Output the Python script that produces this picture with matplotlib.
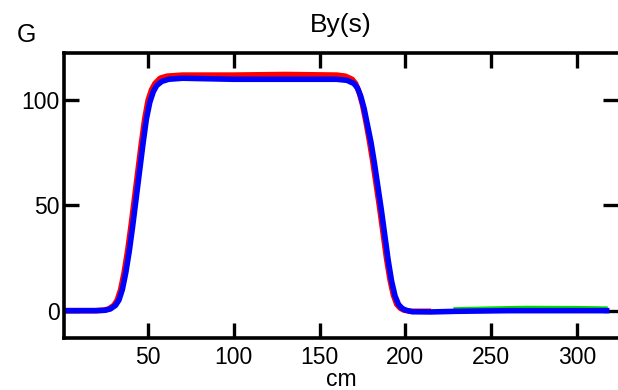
import matplotlib
matplotlib.use("Agg")
import matplotlib.pyplot as plt

plt.rcParams['font.family'] = ['Liberation Sans', 'DejaVu Sans']

# blue: measured By(s), G vs cm
blue_s = [1, 20, 25, 28, 31, 33, 35, 37, 39, 41, 43, 45, 47, 49, 51, 53, 55, 58, 62, 70,
          100, 130, 160, 166, 170, 172, 174, 176, 178, 180, 182, 184, 186, 188, 190,
          192, 194, 196, 198, 200, 204, 215, 230, 260, 290, 319]
blue_b = [0, 0, 0.2, 0.8, 2.5, 5, 10, 18, 28, 40, 53, 66, 79, 91, 99, 104, 107, 109, 110, 110.5,
          110, 110, 110, 109.5, 108, 106, 102, 96, 88, 80, 70, 59, 48, 36, 24,
          14, 7, 3, 1.2, 0.3, -0.5, -0.6, -0.3, 0, 0, 0]

# red: second series, slightly higher plateau
red_s = [1, 19, 24, 27, 30, 32, 34, 36, 38, 40, 42, 44, 46, 48, 50, 52, 54, 57, 61, 70,
         100, 130, 160, 165, 169, 171, 173, 175, 177, 179, 181, 183, 185, 187, 189,
         191, 193, 195, 197, 199, 203, 215]
red_b = [0, 0, 0.2, 0.8, 2.5, 5, 10, 18, 28, 40, 53, 66, 79, 91, 100, 105, 108, 110.5, 111.5, 112,
         112, 112.3, 112, 111.5, 110, 108, 104, 98, 90, 81, 71, 60, 49, 37, 25,
         15, 7.5, 3, 1.2, 0.3, -0.3, -0.3]

# green: tail section
green_s = [228, 250, 270, 300, 318]
green_b = [0.5, 0.9, 1.2, 1.1, 0.9]

xticks = [50, 100, 150, 200, 250, 300]
yticks = [0, 50, 100]

fig = plt.figure(figsize=(6.18, 3.9), dpi=100)
ax = fig.add_axes([0.1036, 0.1333, 0.8964, 0.7308])

ax.plot(green_s, green_b, color='#00dd00', lw=3.5, solid_capstyle='butt')
ax.plot(red_s, red_b, color='#ff0000', lw=4, solid_capstyle='butt')
ax.plot(blue_s, blue_b, color='#0000ff', lw=4, solid_capstyle='butt')

ax.set_xlim(1, 324)
ax.set_ylim(-13, 122.5)
ax.set_xticks(xticks)
ax.set_yticks(yticks)

for sp in ax.spines.values():
    sp.set_linewidth(2.6)
ax.spines['right'].set_visible(False)

ax.tick_params(direction='in', length=11, width=2.4, labelsize=16.5,
               top=True, right=True)
ax.tick_params(axis='x', pad=6)
ax.tick_params(axis='y', pad=3)

ax.set_xlabel('cm', fontsize=16.5, labelpad=-1)
ax.set_title('By(s)', fontsize=19, pad=15)
fig.text(0.042, 0.91, 'G', fontsize=18, ha='center', va='center')

fig.savefig('out.png', dpi=100)
